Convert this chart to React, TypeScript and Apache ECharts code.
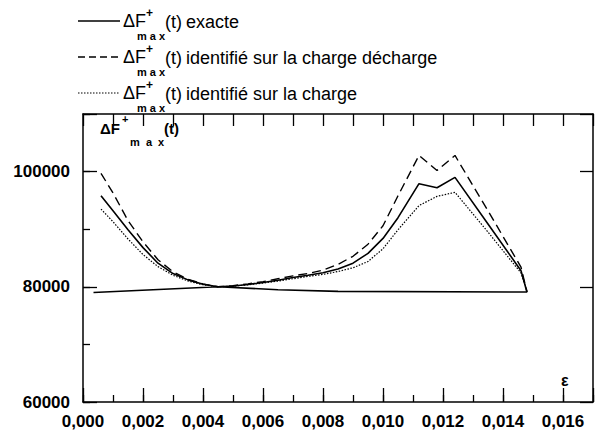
import React, { useEffect, useRef } from 'react';
import * as echarts from 'echarts';

// strain values (ε) of the upper branch
const epsUpper = [0.0006, 0.001, 0.0015, 0.002, 0.0025, 0.003, 0.0035, 0.004, 0.0045, 0.005, 0.0055, 0.006, 0.0065, 0.007, 0.0075, 0.008, 0.0085, 0.009, 0.0095, 0.01, 0.0105, 0.0112, 0.0118, 0.0124, 0.0135, 0.0146, 0.0148];
// ΔF+max(t) exacte
const exacteUpper = [95800, 93200, 89900, 86800, 84100, 82300, 81200, 80450, 80000, 80150, 80400, 80750, 81150, 81600, 82000, 82450, 83100, 84100, 85800, 88400, 92000, 97900, 97200, 99000, 90900, 82800, 79100];
// return (lower) branch of the exact curve
const epsReturn = [0.0148, 0.0085, 0.0065, 0.0045, 0.00035];
const exacteReturn = [79100, 79200, 79500, 80000, 79000];
// identifié sur la charge décharge
const chargeDecharge = [99700, 96300, 91500, 87800, 84700, 82600, 81300, 80500, 80000, 80200, 80500, 80900, 81400, 81900, 82300, 82900, 83900, 85300, 87400, 90600, 95800, 102800, 100200, 102800, 93200, 83400, 79100];
// identifié sur la charge
const chargeSeule = [93500, 91300, 88300, 85600, 83500, 82000, 81000, 80350, 80000, 80100, 80350, 80650, 81000, 81400, 81800, 82150, 82650, 83300, 84400, 86600, 89900, 94100, 95700, 96400, 89500, 82400, 79100];

const xMin = 0;
const xMax = 0.017;
const yMin = 60000;
const yMax = 110000;
const yLabels = [60000, 80000, 100000];

const legendNames = ['exacte', 'identifié sur la charge décharge', 'identifié sur la charge'];

const FONT = 'Liberation Sans, Arial, sans-serif';

export default function App() {
  const ref = useRef<HTMLDivElement>(null);
  useEffect(() => {
    if (!ref.current) return;
    const chart = echarts.init(ref.current, undefined, { renderer: 'svg' });

    const pair = (xs: number[], ys: number[]) => xs.map((x, i) => [x, ys[i]]);
    const exacteData = pair(epsUpper, exacteUpper).concat(pair(epsReturn, exacteReturn));

    const axisLineStyle = { color: '#000', width: 1.5 };
    const tickStyle = { color: '#000', width: 1.3 };

    const legendRows = [21, 57, 93];
    const legendDash: (number[] | null)[] = [null, [7, 4], [1.5, 1.5]];
    const legendWidth = [1.5, 1.4, 1.2];
    const graphics: any[] = [];
    legendRows.forEach((yc, i) => {
      graphics.push({
        type: 'line',
        shape: { x1: 78, y1: yc, x2: 120, y2: yc },
        style: { stroke: '#000', lineWidth: legendWidth[i], lineDash: legendDash[i] || undefined },
      });
      graphics.push({ type: 'text', x: 123, y: yc, style: { text: 'ΔF', font: `18px ${FONT}`, fill: '#000', textVerticalAlign: 'middle' } });
      graphics.push({ type: 'text', x: 146, y: yc - 8, style: { text: '+', font: `bold 12px ${FONT}`, fill: '#000', textVerticalAlign: 'middle' } });
      graphics.push({ type: 'text', x: 137, y: yc + 15, style: { text: 'm a x', font: `bold 11px ${FONT}`, fill: '#000', textVerticalAlign: 'middle' } });
      graphics.push({ type: 'text', x: 165, y: yc + 1, style: { text: '(t)', font: `18px ${FONT}`, fill: '#000', textVerticalAlign: 'middle' } });
      graphics.push({ type: 'text', x: 186, y: yc + 1, style: { text: legendNames[i], font: `18px ${FONT}`, fill: '#000', textVerticalAlign: 'middle' } });
    });
    // y-axis title inside the plot
    graphics.push({ type: 'text', x: 100, y: 128, style: { text: 'ΔF', font: `bold 15px ${FONT}`, fill: '#000', textVerticalAlign: 'middle' } });
    graphics.push({ type: 'text', x: 122, y: 119, style: { text: '+', font: `bold 11px ${FONT}`, fill: '#000', textVerticalAlign: 'middle' } });
    graphics.push({ type: 'text', x: 130, y: 142, style: { text: 'm  a  x', font: `bold 11px ${FONT}`, fill: '#000', textVerticalAlign: 'middle' } });
    graphics.push({ type: 'text', x: 164, y: 128, style: { text: '(t)', font: `bold 15px ${FONT}`, fill: '#000', textVerticalAlign: 'middle' } });
    // x-axis name
    graphics.push({ type: 'text', x: 561, y: 380, style: { text: 'ε', font: `bold 16px ${FONT}`, fill: '#000', textVerticalAlign: 'middle' } });

    const xCommon = { type: 'value', min: xMin, max: xMax, splitLine: { show: false } };
    const yCommon = { type: 'value', min: yMin, max: yMax, splitLine: { show: false } };

    chart.setOption({
      animation: false,
      backgroundColor: '#fff',
      grid: { left: 83, right: -9, top: 114, bottom: 33, containLabel: false },
      xAxis: [
        {
          ...xCommon,
          position: 'bottom',
          interval: 0.002,
          axisLine: { show: true, lineStyle: axisLineStyle },
          axisTick: { show: true, inside: true, length: 14, lineStyle: tickStyle },
          axisLabel: {
            show: true,
            margin: 11,
            fontSize: 17,
            fontWeight: 'bold',
            fontFamily: FONT,
            color: '#000',
            formatter: (v: number) => {
              const k = Math.round(v * 1000);
              if (k % 2 !== 0 || k > 16) return '';
              return v.toFixed(3).replace('.', ',');
            },
          },
        },
        {
          ...xCommon,
          position: 'bottom',
          interval: 0.001,
          axisLine: { show: false },
          axisTick: { show: true, inside: true, length: 7, lineStyle: tickStyle },
          axisLabel: { show: false },
        },
        {
          ...xCommon,
          position: 'top',
          interval: 0.001,
          axisLine: { show: true, onZero: false, lineStyle: axisLineStyle },
          axisTick: { show: true, inside: true, length: 12, lineStyle: tickStyle },
          axisLabel: { show: false },
        },
      ],
      yAxis: [
        {
          ...yCommon,
          position: 'left',
          interval: 20000,
          axisLine: { show: true, onZero: false, lineStyle: axisLineStyle },
          axisTick: { show: true, inside: true, length: 14, lineStyle: tickStyle },
          axisLabel: {
            show: true,
            margin: 13,
            fontSize: 17,
            fontWeight: 'bold',
            fontFamily: FONT,
            color: '#000',
            formatter: (v: number) => (yLabels.indexOf(Math.round(v)) >= 0 ? String(Math.round(v)) : ''),
          },
        },
        {
          ...yCommon,
          position: 'left',
          interval: 10000,
          axisLine: { show: false },
          axisTick: { show: true, inside: true, length: 7, lineStyle: tickStyle },
          axisLabel: { show: false },
        },
        {
          ...yCommon,
          position: 'right',
          interval: 20000,
          axisLine: { show: true, onZero: false, lineStyle: axisLineStyle },
          axisTick: { show: true, inside: true, length: 13, lineStyle: tickStyle },
          axisLabel: { show: false },
        },
      ],
      series: [
        {
          name: 'exacte',
          type: 'line',
          xAxisIndex: 0,
          yAxisIndex: 0,
          data: exacteData,
          showSymbol: false,
          lineStyle: { color: '#000', width: 1.6, type: 'solid' },
        },
        {
          name: 'identifié sur la charge décharge',
          type: 'line',
          xAxisIndex: 0,
          yAxisIndex: 0,
          data: pair(epsUpper, chargeDecharge),
          showSymbol: false,
          lineStyle: { color: '#000', width: 1.4, type: [9, 5] },
        },
        {
          name: 'identifié sur la charge',
          type: 'line',
          xAxisIndex: 0,
          yAxisIndex: 0,
          data: pair(epsUpper, chargeSeule),
          showSymbol: false,
          lineStyle: { color: '#000', width: 1.2, type: [1.5, 1.5] },
        },
      ],
      graphic: graphics,
    });
    return () => chart.dispose();
  }, []);

  return <div ref={ref} style={{ position: 'fixed', left: 0, top: 0, width: 596, height: 435 }} />;
}
